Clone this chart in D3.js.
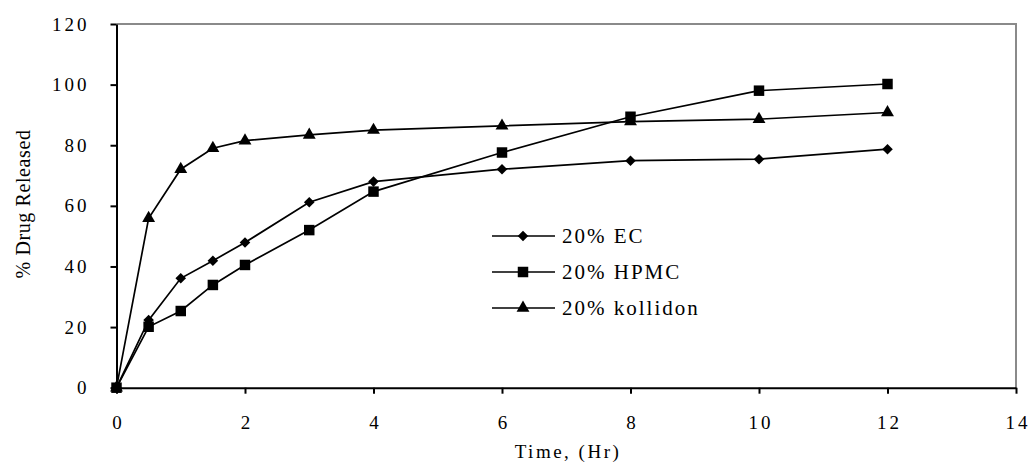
<!DOCTYPE html>
<html>
<head>
<meta charset="utf-8">
<script src="https://cdn.jsdelivr.net/npm/d3@7/dist/d3.min.js"></script>
<style>
  body { margin: 0; background: #fff; }
  svg { display: block; font-family: "Liberation Serif", "DejaVu Serif", serif; }
</style>
</head>
<body>
<svg id="chart" width="1030" height="470"></svg>
<script>
// data
const time     = [0, 0.5, 1, 1.5, 2, 3, 4, 6, 8, 10, 12];
const ec       = [0, 22.3, 36.1, 41.9, 47.9, 61.2, 68.0, 72.1, 74.9, 75.4, 78.7];
const hpmc     = [0, 20.1, 25.3, 33.9, 40.5, 52.0, 64.7, 77.6, 89.4, 98.0, 100.2];
const kollidon = [0, 55.9, 72.1, 79.0, 81.5, 83.4, 85.0, 86.4, 87.8, 88.6, 90.8];
const seriesNames = ['20% EC', '20% HPMC', '20% kollidon'];
const xTicks = [0, 2, 4, 6, 8, 10, 12, 14];
const yTicks = [0, 20, 40, 60, 80, 100, 120];

const svg = d3.select('#chart');

// plot area
const x = d3.scaleLinear().domain([0, 14]).range([116.5, 1016]);
const y = d3.scaleLinear().domain([0, 120]).range([387.7, 24]);

// grey frame top + right
svg.append('path')
  .attr('d', `M${x(0)},${y(120)}H${x(14)}V${y(0)}`)
  .attr('fill', 'none')
  .attr('stroke', '#8a8a8a')
  .attr('stroke-width', 2);

// axes
const xAxis = svg.append('g')
  .attr('transform', `translate(0,${y(0)})`)
  .call(d3.axisBottom(x).tickValues(xTicks).tickSize(6).tickSizeOuter(0).tickPadding(22));

const yAxis = svg.append('g')
  .attr('transform', `translate(${x(0)},0)`)
  .call(d3.axisLeft(y).tickValues(yTicks).tickSize(6).tickSizeOuter(0).tickPadding(21));

[xAxis, yAxis].forEach(g => {
  g.select('.domain').attr('stroke', '#000').attr('stroke-width', 2);
  g.selectAll('.tick line').attr('stroke', '#000').attr('stroke-width', 2);
  g.selectAll('.tick text')
    .attr('fill', '#000')
    .style('font-family', '"Liberation Serif", serif')
    .style('font-size', '19px')
    .style('letter-spacing', '3px');
});
xAxis.selectAll('.tick text').attr('dx', '0.08em');

// axis titles
svg.append('text')
  .attr('x', 568)
  .attr('y', 458)
  .attr('text-anchor', 'middle')
  .style('font-size', '19px')
  .style('letter-spacing', '2.5px')
  .text('Time, (Hr)');

svg.append('text')
  .attr('transform', 'rotate(-90)')
  .attr('x', -204)
  .attr('y', 30)
  .attr('text-anchor', 'middle')
  .style('font-size', '20px')
  .style('letter-spacing', '0.6px')
  .text('% Drug Released');

// series
const symbols = [
  { type: d3.symbolSquare, size: 56, rotate: 45 },   // diamond
  { type: d3.symbolSquare, size: 110, rotate: 0 },   // square
  { type: d3.symbolTriangle, size: 72, rotate: 0 }   // triangle
];
const series = [
  { name: seriesNames[0], values: ec, sym: symbols[0] },
  { name: seriesNames[2], values: kollidon, sym: symbols[2] },
  { name: seriesNames[1], values: hpmc, sym: symbols[1] }
];

const line = d3.line()
  .x((d, i) => x(time[i]))
  .y(d => y(d));

series.forEach(s => {
  svg.append('path')
    .datum(s.values)
    .attr('d', line)
    .attr('fill', 'none')
    .attr('stroke', '#000')
    .attr('stroke-width', 1.7);

  svg.append('g').selectAll('path')
    .data(s.values)
    .join('path')
      .attr('d', d3.symbol().type(s.sym.type).size(s.sym.size))
      .attr('transform', (d, i) => `translate(${x(time[i])},${y(d)}) rotate(${s.sym.rotate})`)
      .attr('fill', '#000');
});

// legend
const legend = svg.append('g').attr('transform', 'translate(492,236)');
[0, 1, 2].forEach(i => {
  const row = legend.append('g').attr('transform', `translate(0,${i * 36})`);
  row.append('line')
    .attr('x1', 0).attr('x2', 63)
    .attr('stroke', '#000').attr('stroke-width', 1.7);
  row.append('path')
    .attr('d', d3.symbol().type(symbols[i].type).size(symbols[i].size))
    .attr('transform', `translate(31,0) rotate(${symbols[i].rotate})`)
    .attr('fill', '#000');
  row.append('text')
    .attr('x', 70)
    .attr('dy', '0.35em')
    .style('font-size', '21px')
    .style('letter-spacing', '2px')
    .text(seriesNames[i]);
});
</script>
</body>
</html>
